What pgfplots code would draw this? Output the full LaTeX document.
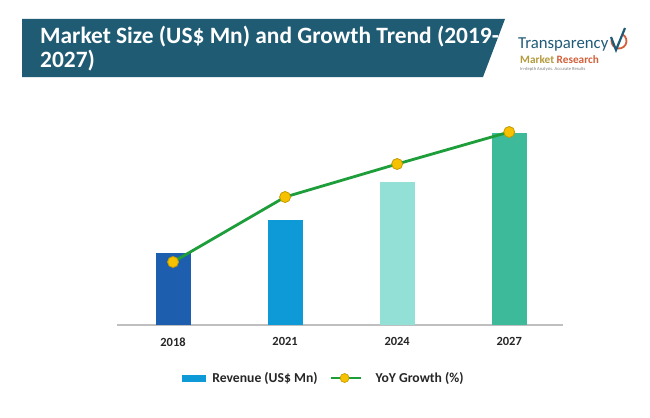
\documentclass[border=0pt]{standalone}
\usepackage{pgfplots}
\pgfplotsset{compat=1.18}
\usepackage{fontspec}
\setmainfont{Carlito}
\definecolor{banner}{HTML}{1F5B73}
\definecolor{cA}{HTML}{1D5FAE}
\definecolor{cB}{HTML}{0E9AD7}
\definecolor{cC}{HTML}{92E0D6}
\definecolor{cD}{HTML}{3DBA99}
\definecolor{lineg}{HTML}{1E9E3A}
\definecolor{yel}{HTML}{F6C100}
\definecolor{yeld}{HTML}{C49A00}
\definecolor{axg}{HTML}{BFBFBF}
\definecolor{txt}{HTML}{262626}
\definecolor{logoT}{HTML}{1F5B78}
\definecolor{logoM}{HTML}{B59A3C}
\definecolor{logoR}{HTML}{D2603A}
\begin{document}
\begin{tikzpicture}[x=1bp,y=1bp]
\path[use as bounding box] (0,0) rectangle (650,417);
\fill[white] (0,0) rectangle (650,417);
\fill[banner] (22,398) -- (505,398) -- (483,340) -- (22,340) -- cycle;
\node[anchor=base west, text=white, font=\bfseries\fontsize{23.5}{26}\selectfont, inner sep=0] at (40,373.7) {Market Size (US\$ Mn) and Growth Trend (2019-};
\node[anchor=base west, text=white, font=\bfseries\fontsize{23.5}{26}\selectfont, inner sep=0] at (40,349.3) {2027)};
% logo
\node[anchor=base west, text=logoT, font=\fontsize{16.8}{18}\selectfont, inner sep=0] at (518,369) {Transparency};
\node[anchor=base west, font=\bfseries\fontsize{11.3}{12}\selectfont, inner sep=0] at (520,354) {\textcolor{logoM}{Market} \textcolor{logoR}{Research}};
\node[anchor=base west, text=gray, font=\fontsize{4.6}{5}\selectfont, inner sep=0] at (520,347) {In-depth Analysis. Accurate Results};
\draw[logoR, line width=1.8bp] (619,376) ++(60:7.5) arc (60:-200:7.5);
\draw[logoT, line width=2.2bp] (611,380) -- (616,367) -- (625,389);
\begin{axis}[
  at={(117bp,92bp)}, anchor=south west, scale only axis,
  width=446bp, height=230bp,
  xmin=-0.5, xmax=3.48, ymin=0, ymax=230,
  axis x line*=bottom, axis y line=none,
  x axis line style={draw=axg, line width=1.2bp},
  xtick={0,1,2,3}, xticklabels={2018,2021,2024,2027},
  major tick length=0,
  xticklabel style={font=\bfseries\fontsize{12.5}{14}\selectfont, text=txt, yshift=-9bp},
  legend columns=2,
  legend style={at={(axis description cs:0.145,-0.2304)}, anchor=west, draw=none, fill=none,
    inner sep=0pt, outer sep=0pt,
    font=\bfseries\fontsize{13.7}{15}\selectfont, text=txt,
    /tikz/every even column/.append style={column sep=10bp}},
  clip=false,
]
\addplot[ybar, bar shift=0pt, bar width=35bp, fill=cA, draw=none, forget plot] coordinates {(0,72)};
\addplot[ybar, bar shift=0pt, bar width=35bp, fill=cB, draw=none, forget plot] coordinates {(1,105)};
\addplot[ybar, bar shift=0pt, bar width=35bp, fill=cC, draw=none, forget plot] coordinates {(2,143)};
\addplot[ybar, bar shift=0pt, bar width=35bp, fill=cD, draw=none, forget plot] coordinates {(3,192)};
\addlegendimage{legend image code/.code={\fill[cB] (0bp,-2.8bp) rectangle (23.5bp,2.8bp); \path[draw=none,fill=none] (0bp,0) -- (28.5bp,0);}}
\addlegendentry{Revenue (US\$ Mn)}
\addplot[lineg, line width=2.8bp, mark=*, mark size=5.5bp,
  mark options={fill=yel, draw=yeld, line width=0.8bp},
  legend image code/.code={
    \draw[lineg, line width=2bp] (0bp,0) -- (30bp,0);
    \fill[yel, draw=yeld, line width=0.6bp] (14bp,0) circle (4.5bp);
    \path[draw=none,fill=none] (0bp,0) -- (43bp,0);}]
  coordinates {(0,63) (1,128) (2,161) (3,193)};
\addlegendentry{YoY Growth (\%)}
\end{axis}
\end{tikzpicture}
\end{document}
